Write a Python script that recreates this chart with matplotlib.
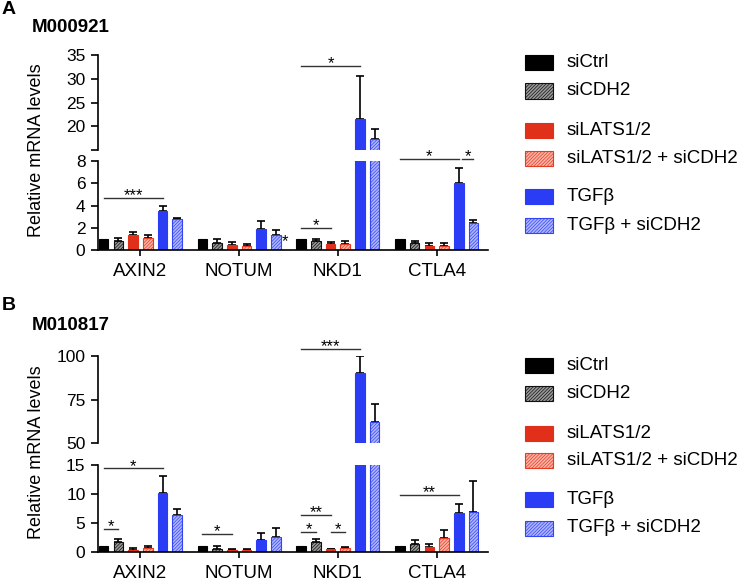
import numpy as np
import matplotlib.pyplot as plt
from matplotlib.patches import Rectangle

plt.rcParams['font.family'] = ['Liberation Sans', 'DejaVu Sans']
plt.rcParams['hatch.linewidth'] = 0.5

W, H = 738, 581

genes = ['AXIN2', 'NOTUM', 'NKD1', 'CTLA4']
series = ['siCtrl', 'siCDH2', 'siLATS1/2', 'siLATS1/2 + siCDH2', 'TGFβ', 'TGFβ + siCDH2']

# panel A (M000921): mean and upper error per series, per gene
a_mean = [[1.0, 1.0, 1.0, 1.0],
          [0.85, 0.6, 0.84, 0.6],
          [1.35, 0.45, 0.54, 0.39],
          [1.1, 0.36, 0.57, 0.36],
          [3.54, 1.86, 21.5, 6.06],
          [2.76, 1.35, 17.4, 2.4]]
a_err = [[0, 0, 0, 0],
         [0.2, 0.36, 0.18, 0.18],
         [0.25, 0.24, 0.15, 0.21],
         [0.22, 0.18, 0.24, 0.24],
         [0.42, 0.74, 9.0, 1.3],
         [0.14, 0.45, 2.1, 0.27]]

# panel B (M010817)
b_mean = [[1.0, 1.0, 1.0, 1.0],
          [1.7, 0.6, 1.7, 1.3],
          [0.35, 0.35, 0.46, 0.8],
          [0.75, 0.3, 0.63, 2.35],
          [10.2, 2.07, 90.0, 6.8],
          [6.3, 2.64, 62.2, 6.9]]
b_err = [[0, 0, 0, 0],
         [0.5, 0.5, 0.5, 0.77],
         [0.28, 0.1, 0.1, 0.5],
         [0.28, 0.3, 0.27, 1.45],
         [2.9, 1.13, 10.0, 1.5],
         [1.2, 1.46, 10.0, 5.4]]

# significance marks: (gene, bar from, bar to, height, text, segment)
a_sig = [(0, 0, 4, 4.7, '***', 'lo'),
         (2, 0, 2, 2.0, '*', 'lo'),
         (2, 0, 4, 32.6, '*', 'hi'),
         (3, 0, 4, 8.15, '*', 'lo'),
         (3, 4.2, 5, 8.15, '*', 'lo')]
b_sig = [(0, 0, 1, 3.9, '*', 'lo'),
         (0, 0, 4, 14.4, '*', 'lo'),
         (1, 0, 2, 3.1, '*', 'lo'),
         (2, 0, 2, 6.4, '**', 'lo'),
         (2, 0, 1, 3.5, '*', 'lo'),
         (2, 2, 3, 3.5, '*', 'lo'),
         (2, 0, 4, 103.8, '***', 'hi'),
         (3, 0, 4, 9.8, '**', 'lo')]

styles = [('#000000', '#000000', None),
          ('#9a9a9a', '#111111', '//////////'),
          ('#E0301A', '#E0301A', None),
          ('#F8B4A6', '#E83A22', '//////////'),
          ('#2B3CF5', '#2B3CF5', None),
          ('#AEB6FF', '#3344F5', '//////////')]

STEP, BW = 0.149, 0.097


def xpos(g, i):
    return g + (i - 2.5) * STEP


def px_box(x0, y0, x1, y1):
    return [x0 / W, 1 - y1 / H, (x1 - x0) / W, (y1 - y0) / H]


def draw_bars(ax, means, errs):
    for i in range(6):
        face, edge, hatch = styles[i]
        x = np.array([xpos(g, i) for g in range(4)])
        m = np.array(means[i])
        e = np.array(errs[i])
        ax.bar(x, m, BW, color=face, edgecolor=edge, hatch=hatch, lw=0.8, zorder=2)
        k = e > 0
        if k.any():
            ax.errorbar(x[k], m[k], yerr=[np.zeros(k.sum()), e[k]], fmt='none',
                        ecolor='black', elinewidth=1.2, capsize=2.6, capthick=1.2, zorder=1)


def style_axis(ax, is_top):
    ax.set_xlim(-0.43, 3.52)
    for s in ['top', 'right']:
        ax.spines[s].set_visible(False)
    ax.spines['left'].set_linewidth(1.2)
    ax.spines['bottom'].set_linewidth(1.2)
    ax.tick_params(axis='y', length=5, width=1.2, pad=4, labelsize=12.5)
    if is_top:
        ax.spines['bottom'].set_visible(False)
        ax.set_xticks([])
    else:
        ax.set_xticks(range(4))
        ax.set_xticklabels(genes)
        ax.tick_params(axis='x', length=4, width=1.2, pad=5, labelsize=13.5)


def star(ax, x, y, text, dy=-1.6):
    ax.annotate(text, (x, y), xytext=(0, dy), textcoords='offset points',
                ha='center', va='baseline', fontsize=12, annotation_clip=False)


def draw_sig(axes, sig):
    for g, i1, i2, y, text, seg in sig:
        ax = axes[seg]
        x1, x2 = xpos(g, i1), xpos(g, i2)
        ax.plot([x1, x2], [y, y], color='#333333', lw=1.0, clip_on=False)
        star(ax, (x1 + x2) / 2, y, text)


def draw_legend(fig, y0):
    offs = [0, 28.5, 68, 95.5, 134, 163]
    for i in range(6):
        face, edge, hatch = styles[i]
        yc = y0 + offs[i]
        fig.add_artist(Rectangle((525 / W, 1 - (yc + 7.5) / H), 28 / W, 15 / H,
                                 transform=fig.transFigure, facecolor=face,
                                 edgecolor=edge, hatch=hatch, lw=0.8))
        fig.text(567 / W, 1 - yc / H, series[i], fontsize=13.5, va='center', ha='left')


fig = plt.figure(figsize=(7.38, 5.81), dpi=100)

# panel A
axA_hi = fig.add_axes(px_box(98, 55, 488, 150))
axA_lo = fig.add_axes(px_box(98, 161, 488, 250))
for ax in (axA_hi, axA_lo):
    draw_bars(ax, a_mean, a_err)
axA_hi.set_ylim(15, 35)
axA_hi.set_yticks([15, 20, 25, 30, 35])
axA_hi.set_yticklabels(['', '20', '25', '30', '35'])
axA_lo.set_ylim(0, 8)
axA_lo.set_yticks([0, 2, 4, 6, 8])
style_axis(axA_hi, True)
style_axis(axA_lo, False)
draw_sig({'hi': axA_hi, 'lo': axA_lo}, a_sig)
star(axA_lo, xpos(1, 5) + 0.09, 1.2, '*', dy=-7)

# panel B
axB_hi = fig.add_axes(px_box(98, 356, 488, 443))
axB_lo = fig.add_axes(px_box(98, 465, 488, 552))
for ax in (axB_hi, axB_lo):
    draw_bars(ax, b_mean, b_err)
axB_hi.set_ylim(50, 100)
axB_hi.set_yticks([50, 75, 100])
axB_lo.set_ylim(0, 15)
axB_lo.set_yticks([0, 5, 10, 15])
style_axis(axB_hi, True)
style_axis(axB_lo, False)
draw_sig({'hi': axB_hi, 'lo': axB_lo}, b_sig)

# labels
fig.text(2 / W, 1 - 9 / H, 'A', fontsize=14, fontweight='bold', va='center')
fig.text(32 / W, 1 - 27 / H, 'M000921', fontsize=13.5, fontweight='bold', va='center')
fig.text(2 / W, 1 - 306 / H, 'B', fontsize=14, fontweight='bold', va='center')
fig.text(32 / W, 1 - 325 / H, 'M010817', fontsize=13.5, fontweight='bold', va='center')
fig.text(37 / W, 1 - 150 / H, 'Relative mRNA levels', rotation=90, fontsize=13,
         va='center', ha='center')
fig.text(37 / W, 1 - 452 / H, 'Relative mRNA levels', rotation=90, fontsize=13,
         va='center', ha='center')

draw_legend(fig, 62.5)
draw_legend(fig, 365)

fig.savefig('out.png', dpi=100)
